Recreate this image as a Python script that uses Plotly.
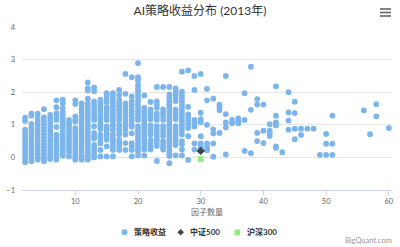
import plotly.graph_objects as go

factor_counts = [2, 3, 4, 5, 6, 7, 8, 9, 10, 11, 12, 13, 14, 15, 16, 17, 18, 19, 20,
                 21, 22, 23, 24, 25, 26, 27, 28, 29, 30, 31, 32, 33, 34, 35, 36, 37, 38,
                 39, 40, 41, 42, 43, 44, 45, 46, 47, 48, 49, 50, 51, 56, 57, 58, 60]

strategy_returns = [
    [1.22, 1.12, 0.85, 0.75, 0.65, 0.55, 0.45, 0.35, 0.25, 0.15, 0.05, -0.05, -0.15],
    [1.35, 1.28, 1.03, 0.9, 0.8, 0.7, 0.6, 0.5, 0.4, 0.3, 0.2, 0.1, 0.0, -0.12],
    [1.34, 1.2, 1.1, 1.0, 0.9, 0.8, 0.7, 0.6, 0.5, 0.4, 0.3, 0.2, 0.1, 0.0, -0.07],
    [1.48, 1.23, 1.13, 1.03, 0.93, 0.83, 0.73, 0.63, 0.53, 0.43, 0.33, 0.23, 0.13, 0.03, -0.07, -0.12],
    [1.3, 1.2, 1.1, 1.0, 0.9, 0.8, 0.7, 0.6, 0.5, 0.4, 0.3, 0.2, 0.1, 0.0, -0.05],
    [1.75, 1.54, 1.36, 1.26, 1.15, 0.93, 0.7, 0.6, 0.5, 0.4, 0.3, 0.2, 0.1, 0.0, -0.07],
    [1.77, 1.66, 1.5, 1.4, 1.3, 1.2, 1.1, 1.0, 0.9, 0.8, 0.7, 0.6, 0.5, 0.4, 0.3, 0.2, 0.1, 0.05],
    [1.15, 1.05, 0.95, 0.85, 0.75, 0.65, 0.55, 0.45, 0.35, 0.25, 0.15, 0.03],
    [1.75, 1.64, 1.25, 1.15, 1.1, 0.9, 0.8, 0.7, 0.6, 0.5, 0.4, 0.3, 0.2, 0.1, 0.0, -0.07],
    [1.66, 1.56, 1.46, 1.36, 1.26, 1.16, 1.06, 0.96, 0.86, 0.76, 0.66, 0.56, 0.46, 0.36, 0.26, 0.16, 0.06, -0.04, -0.07],
    [2.3, 2.12, 2.05, 1.8, 1.66, 1.56, 1.46, 1.36, 1.26, 1.16, 1.06, 0.96, 0.86, 0.76, 0.66, 0.56, 0.46, 0.36, 0.26, 0.16, 0.06, -0.04, -0.07],
    [2.15, 2.03, 1.72, 1.62, 1.52, 1.42, 1.32, 1.22, 1.15, 0.95, 0.75, 0.65, 0.58, 0.38, 0.28, 0.18, 0.08, 0.0],
    [1.77, 1.67, 1.57, 1.47, 1.37, 1.27, 1.17, 1.07, 0.97, 0.87, 0.7, 0.6, 0.5, 0.43, 0.23, 0.03],
    [1.97, 1.9, 1.8, 1.7, 1.54, 1.44, 1.34, 1.24, 1.15, 0.95, 0.85, 0.75, 0.65, 0.54, 0.34, 0.03],
    [1.97, 1.87, 1.77, 1.67, 1.57, 1.47, 1.37, 1.27, 1.17, 1.07, 0.97, 0.85, 0.7, 0.6, 0.5, 0.4, 0.3, 0.23, 0.03],
    [2.07, 1.92, 1.77, 1.67, 1.57, 1.47, 1.37, 1.27, 1.15, 1.0, 0.9, 0.8, 0.7, 0.54, 0.44, 0.34, 0.23],
    [2.56, 1.95, 1.66, 1.56, 1.46, 1.36, 1.26, 1.16, 1.06, 0.96, 0.85, 0.7, 0.44, 0.23],
    [2.46, 1.87, 1.72, 1.62, 1.52, 1.42, 1.32, 1.22, 1.12, 1.0, 0.94, 0.74, 0.44, 0.34, 0.23, 0.03],
    [2.89, 2.46, 2.36, 2.22, 2.12, 2.02, 1.92, 1.82, 1.72, 1.62, 1.52, 1.42, 1.32, 1.22, 1.15, 0.95, 0.85, 0.75, 0.65, 0.55, 0.45, 0.35, 0.25, 0.18, 0.06],
    [1.9, 1.52, 1.42, 1.32, 1.22, 1.12, 1.02, 0.92, 0.82, 0.72, 0.62, 0.52, 0.42, 0.32, 0.24, 0.06],
    [1.7, 1.47, 1.37, 1.27, 1.17, 0.98, 0.88, 0.78, 0.7, 0.54, 0.44, 0.34, 0.24],
    [2.16, 1.72, 1.62, 1.52, 1.35, 1.25, 1.15, 0.96, 0.86, 0.76, 0.66, 0.56, 0.46, 0.35, -0.11],
    [2.16, 1.47, 1.37, 1.27, 1.15, 0.96, 0.86, 0.76, 0.66, 0.5, 0.42, 0.32, 0.24],
    [2.16, 1.93, 1.83, 1.73, 1.63, 1.53, 1.43, 1.33, 1.23, 1.13, 1.03, 0.93, 0.83, 0.73, 0.63, 0.53, 0.43, 0.33, 0.19, 0.1, 0.04, -0.18],
    [2.12, 2.02, 1.92, 1.82, 1.72, 1.47, 1.37, 1.27, 1.17, 0.96, 0.86, 0.76, 0.66, 0.56, 0.46, 0.38, 0.06],
    [2.63, 2.02, 1.92, 1.82, 1.72, 1.62, 1.52, 1.42, 1.32, 1.22, 1.12, 1.02, 0.92, 0.82, 0.7, 0.5, 0.4, 0.24, 0.06],
    [2.67, 1.55, 1.32, 1.22, 1.12, 1.02, 0.9, 0.65, -0.08],
    [2.5, 2.07, 1.15, 1.05, 0.95, 0.43, 0.24],
    [2.56, 1.37, 1.17, 1.08, 0.65, 0.43, 0.33, 0.24],
    [2.1, 1.75, 1.0, 0.43, 0.33, 0.24, 0.22],
    [1.8, 0.86, 0.74, 0.43, 0.02],
    [1.62, 1.55, 1.45, 0.75],
    [2.5, 1.33, 1.07, 0.92, 0.09],
    [1.15, 1.05],
    [1.2, 1.1, 1.05],
    [1.97, 1.15, 0.2],
    [2.78, 1.46, 0.13],
    [1.79, 1.62, 0.75, 0.5],
    [1.62, 0.82, 0.44],
    [1.02, 0.82, 0.74, 0.66],
    [2.18, 1.28, 1.07, 0.98, 0.34, 0.29],
    [0.16],
    [2.0, 1.38, 1.13, 0.85],
    [1.71, 1.36, 0.88, 0.56],
    [0.88, 0.69],
    [0.88],
    [0.88],
    [0.08],
    [0.72, 0.42, 0.08],
    [1.28, 0.42, 0.08],
    [1.44],
    [0.71],
    [1.63, 1.26],
    [0.9],
]

csi500_x = [30]
csi500_y = [0.2]
hs300_x = [30]
hs300_y = [-0.05]

series_names = ["策略收益", "中证500", "沪深300"]
series_colors = ["#7cb5ec", "#434348", "#90ed7d"]
x_ticks = [10, 20, 30, 40, 50, 60]
y_ticks = [-1, 0, 1, 2, 3, 4]

sx, sy = [], []
for n, vals in zip(factor_counts, strategy_returns):
    for v in vals:
        sx.append(n)
        sy.append(v)

FONT = "Lato, 'Noto Sans CJK SC', sans-serif"

fig = go.Figure()
fig.add_trace(go.Scatter(x=sx, y=sy, mode="markers", name=series_names[0],
                         marker=dict(color=series_colors[0], size=5.8, line=dict(width=0))))
fig.add_trace(go.Scatter(x=csi500_x, y=csi500_y, mode="markers", name=series_names[1],
                         marker=dict(color=series_colors[1], size=6.5, symbol="diamond", line=dict(width=0))))
fig.add_trace(go.Scatter(x=hs300_x, y=hs300_y, mode="markers", name=series_names[2],
                         marker=dict(color=series_colors[2], size=5.8, symbol="square", line=dict(width=0))))

L, R, T, B = 22, 8, 27, 57
W, H = 400, 247
pw, ph = W - L - R, H - T - B

def px(x):
    return (x - L) / pw

def py(y):
    return (H - B - y) / ph

shapes = []
# export menu icon
for yy in (9, 12.5, 16):
    shapes.append(dict(type="line", xref="paper", yref="paper",
                       x0=px(380), x1=px(391), y0=py(yy), y1=py(yy),
                       line=dict(color="#666666", width=1.6)))

# legend symbols (drawn manually for Highcharts-like compact spacing)
LY = 232.3
cx = 124.5
shapes.append(dict(type="circle", xref="paper", yref="paper",
                   x0=px(cx - 3), x1=px(cx + 3), y0=py(LY + 3), y1=py(LY - 3),
                   fillcolor=series_colors[0], line=dict(width=0)))
dx = 180.7
shapes.append(dict(type="path", xref="paper", yref="paper",
                   path="M {a},{b} L {c},{d} L {a},{e} L {f},{d} Z".format(
                       a=px(dx), b=py(LY - 3.3), c=px(dx + 3.3), d=py(LY), e=py(LY + 3.3), f=px(dx - 3.3)),
                   fillcolor=series_colors[1], line=dict(width=0)))
qx = 237.3
shapes.append(dict(type="rect", xref="paper", yref="paper",
                   x0=px(qx - 2.8), x1=px(qx + 2.8), y0=py(LY + 2.8), y1=py(LY - 2.8),
                   fillcolor=series_colors[2], line=dict(width=0)))

annotations = [dict(text="BigQuant.com", xref="paper", yref="paper",
                    x=px(394), y=py(240), xanchor="right", yanchor="middle",
                    showarrow=False, font=dict(size=7.5, color="#999999"))]
for name, tx in zip(series_names, (132, 188, 244.5)):
    annotations.append(dict(text=name, xref="paper", yref="paper",
                            x=px(tx), y=py(LY), xanchor="left", yanchor="middle",
                            showarrow=False,
                            font=dict(size=8, color="#333333", family=FONT, weight="bold")))

fig.update_layout(
    width=W, height=H,
    margin=dict(l=L, r=R, t=T, b=B, autoexpand=False),
    paper_bgcolor="white", plot_bgcolor="white",
    font=dict(family=FONT, color="#666666", size=8),
    title=dict(text="AI策略收益分布 (2013年)", x=0.5, xanchor="center",
               y=1 - 11 / H, yanchor="middle",
               font=dict(family=FONT, size=12, color="#333333")),
    xaxis=dict(range=[1.5, 60.5], tickvals=x_ticks, showgrid=False, zeroline=False,
               showline=True, linecolor="#ccd6eb", linewidth=1,
               ticks="outside", ticklen=4, tickcolor="#ccd6eb",
               tickfont=dict(size=7.5, color="#666666"),
               title=dict(text="因子数量", font=dict(size=8, color="#666666"), standoff=4)),
    yaxis=dict(range=[-1, 4], tickvals=y_ticks, showgrid=True, gridcolor="#e6e6e6",
               gridwidth=1, zeroline=False, showline=False,
               tickfont=dict(size=7.5, color="#666666"), ticklabelstandoff=6),
    showlegend=False,
    shapes=shapes,
    annotations=annotations,
)

fig.write_html("out.html")
